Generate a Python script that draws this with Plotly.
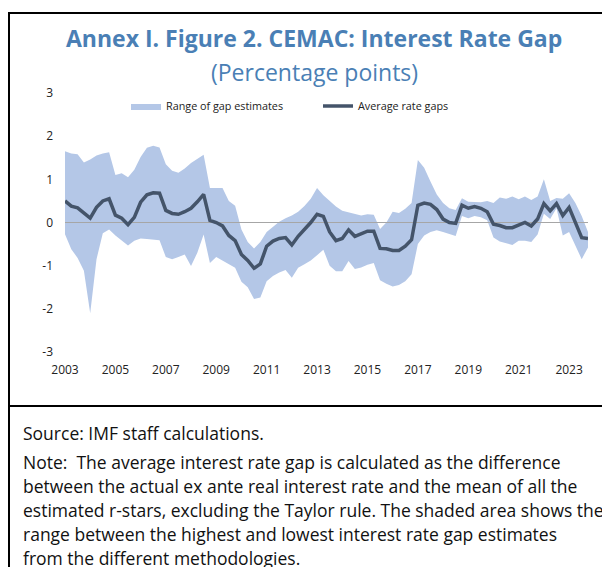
"""
Annex I. Figure 2. CEMAC: Interest Rate Gap - recreated with plotly
"""

import plotly.graph_objects as go

# quarterly data, 2003Q1 .. 2023Q4
years = list(range(2003, 2024))
quarters = [f"{y}Q{q}" for y in years for q in range(1, 5)]

avg_gap = [
    0.50, 0.38, 0.34, 0.22, 0.10, 0.35, 0.50, 0.55,
    0.17, 0.10, -0.05, 0.12, 0.47, 0.64, 0.69, 0.68,
    0.28, 0.21, 0.19, 0.25, 0.33, 0.48, 0.65, 0.05,
    0.00, -0.08, -0.30, -0.42, -0.74, -0.88, -1.06, -0.96,
    -0.55, -0.43, -0.37, -0.35, -0.52, -0.32, -0.17, 0.00,
    0.19, 0.14, -0.22, -0.42, -0.37, -0.17, -0.32, -0.25,
    -0.20, -0.20, -0.60, -0.61, -0.65, -0.65, -0.55, -0.40,
    0.40, 0.45, 0.42, 0.30, 0.08, 0.00, -0.02, 0.40,
    0.33, 0.37, 0.33, 0.25, -0.04, -0.07, -0.12, -0.12,
    -0.06, 0.00, -0.08, 0.08, 0.44, 0.27, 0.44, 0.16,
    0.35, 0.00, -0.35, -0.37,
]

gap_high = [
    1.65, 1.60, 1.58, 1.39, 1.46, 1.55, 1.60, 1.63,
    1.10, 1.14, 1.05, 1.22, 1.52, 1.73, 1.78, 1.74,
    1.35, 1.20, 1.15, 1.25, 1.38, 1.48, 1.57, 0.80,
    0.80, 0.80, 0.50, 0.39, -0.16, -0.45, -0.60, -0.45,
    -0.22, -0.10, 0.02, 0.10, 0.16, 0.25, 0.38, 0.55,
    0.80, 0.63, 0.50, 0.37, 0.27, 0.23, 0.19, 0.16,
    0.19, 0.18, -0.15, 0.00, 0.25, 0.22, 0.32, 0.45,
    1.45, 1.27, 0.95, 0.65, 0.45, 0.33, 0.29, 0.56,
    0.48, 0.47, 0.47, 0.50, 0.45, 0.58, 0.55, 0.60,
    0.54, 0.60, 0.52, 0.60, 1.00, 0.50, 0.57, 0.55,
    0.68, 0.45, 0.15, -0.22,
]

gap_low = [
    -0.27, -0.62, -0.82, -1.12, -2.10, -0.85, -0.25, -0.16,
    -0.30, -0.41, -0.53, -0.42, -0.37, -0.38, -0.40, -0.41,
    -0.80, -0.85, -0.80, -0.74, -1.01, -0.70, -0.28, -0.94,
    -0.80, -0.88, -0.98, -1.05, -1.37, -1.50, -1.77, -1.74,
    -1.36, -1.24, -1.16, -1.10, -1.28, -1.05, -0.97, -0.88,
    -0.76, -0.63, -1.00, -1.13, -1.13, -0.89, -1.08, -1.04,
    -0.98, -0.94, -1.34, -1.42, -1.48, -1.45, -1.36, -1.20,
    -0.50, -0.30, -0.22, -0.18, -0.22, -0.27, -0.31, 0.15,
    0.10, 0.15, 0.12, 0.05, -0.35, -0.44, -0.48, -0.52,
    -0.42, -0.42, -0.45, -0.28, 0.20, 0.08, 0.33, -0.30,
    -0.22, -0.52, -0.85, -0.58,
]

tick_labels = [str(y) for y in range(2003, 2024, 2)]
y_ticks = [3, 2, 1, 0, -1, -2, -3]

title_text = "Annex I. Figure 2. CEMAC: Interest Rate Gap"
subtitle_text = "(Percentage points)"
note_lines = [
    "Source: IMF staff calculations.",
    "Note:  The average interest rate gap is calculated as the difference",
    "between the actual ex ante real interest rate and the mean of all the",
    "estimated r-stars, excluding the Taylor rule. The shaded area shows the",
    "range between the highest and lowest interest rate gap estimates",
    "from the different methodologies.",
]

FONT = "Open Sans"
BAND = "#b4c7e7"
LINE = "#44546a"
BLUE = "#4a7fb5"

x_idx = list(range(len(quarters)))

fig = go.Figure()

# shaded range: low (invisible) then high filled down to it
fig.add_trace(
    go.Scatter(
        x=x_idx, y=gap_low, mode="lines", line=dict(width=0),
        showlegend=False, hoverinfo="skip",
    )
)
fig.add_trace(
    go.Scatter(
        x=x_idx, y=gap_high, mode="lines", line=dict(width=0),
        fill="tonexty", fillcolor=BAND, name="Range of gap estimates",
    )
)

# zero reference line sits above the band, below the average line
fig.add_trace(
    go.Scatter(
        x=[x_idx[0], x_idx[-1]], y=[0, 0], mode="lines",
        line=dict(color="#a6a6a6", width=1.2),
        showlegend=False, hoverinfo="skip",
    )
)

fig.add_trace(
    go.Scatter(
        x=x_idx, y=avg_gap, mode="lines",
        line=dict(color=LINE, width=3.5),
        name="Average rate gaps",
    )
)

# the page body adds an 8px margin, so the figure is drawn 8px smaller
# and all layout positions below are given in page pixels
OFF = 8
W, H = 610 - OFF, 567 - OFF
px_l, px_r, px_t, px_b = 65, 588, 93, 352


def paper_x(px):
    return (px - px_l) / (px_r - px_l)


def paper_y(py):
    return (px_b - py) / (px_b - px_t)


shapes = [
    # outer frame
    dict(type="rect", xref="paper", yref="paper",
         x0=paper_x(9), x1=paper_x(609), y0=paper_y(580), y1=paper_y(13),
         line=dict(color="black", width=2), layer="above"),
    # separator between chart and notes
    dict(type="line", xref="paper", yref="paper",
         x0=paper_x(9), x1=paper_x(609), y0=paper_y(406), y1=paper_y(406),
         line=dict(color="black", width=2), layer="above"),
]

annotations = [
    dict(text=f"<b>{title_text}</b>", xref="paper", yref="paper",
         x=paper_x(314), y=paper_y(38), xanchor="center", yanchor="middle",
         showarrow=False, font=dict(family=FONT, size=23, color=BLUE)),
    dict(text=subtitle_text, xref="paper", yref="paper",
         x=paper_x(314), y=paper_y(72), xanchor="center", yanchor="middle",
         showarrow=False, font=dict(family=FONT, size=23, color=BLUE)),
]

note_y = [433, 462, 486, 510, 534, 558]
for line_text, ny in zip(note_lines, note_y):
    annotations.append(
        dict(text=line_text, xref="paper", yref="paper",
             x=paper_x(21), y=paper_y(ny), xanchor="left", yanchor="middle",
             showarrow=False,
             font=dict(family=FONT, size=17.5, color="#111111"))
    )

fig.update_layout(
    width=W,
    height=H,
    margin=dict(l=px_l - OFF, r=W - (px_r - OFF), t=px_t - OFF, b=H - (px_b - OFF)),
    paper_bgcolor="white",
    plot_bgcolor="white",
    font=dict(family=FONT, size=12, color="#333333"),
    showlegend=True,
    legend=dict(
        orientation="h", traceorder="normal",
        x=paper_x(126), y=paper_y(106), yanchor="middle", xanchor="left",
        font=dict(size=10.8, color="#222222"),
        entrywidth=147, itemwidth=30, bgcolor="rgba(0,0,0,0)",
    ),
    xaxis=dict(
        range=[x_idx[0], x_idx[-1]],
        tickmode="array",
        tickvals=x_idx[::8],
        ticktext=tick_labels,
        showgrid=False, zeroline=False, showline=False, ticks="",
        ticklabelstandoff=9,
        tickfont=dict(size=12, color="#222222"),
    ),
    yaxis=dict(
        range=[-3, 3],
        tickmode="array",
        tickvals=y_ticks,
        ticktext=[str(v) for v in y_ticks],
        showgrid=False, zeroline=False, showline=False, ticks="",
        ticklabelstandoff=11,
        tickfont=dict(size=12, color="#222222"),
    ),
    shapes=shapes,
    annotations=annotations,
)

fig.write_html("out.html")
